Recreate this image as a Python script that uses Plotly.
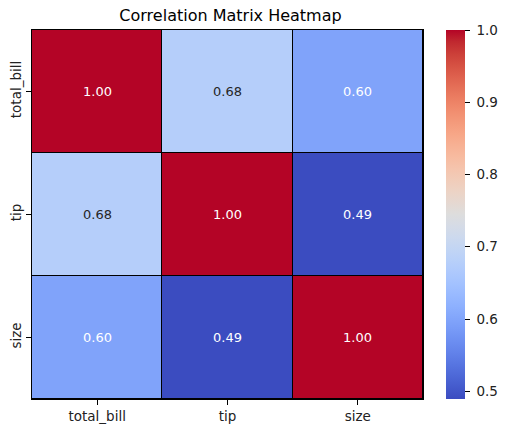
import plotly.graph_objects as go

labels = ["total_bill", "tip", "size"]
corr = [
    [1.00, 0.6757, 0.5983],
    [0.6757, 1.00, 0.4893],
    [0.5983, 0.4893, 1.00],
]
cbar_ticks = [0.5, 0.6, 0.7, 0.8, 0.9, 1.0]

# matplotlib "coolwarm"
coolwarm_rgb = [
    (59, 76, 192), (68, 90, 204), (77, 104, 215), (87, 117, 225),
    (98, 130, 234), (108, 142, 241), (119, 154, 247), (130, 165, 251),
    (141, 176, 254), (152, 185, 255), (163, 194, 255), (174, 201, 253),
    (184, 208, 249), (194, 213, 244), (204, 217, 238), (213, 219, 230),
    (221, 221, 221), (229, 216, 209), (236, 211, 197), (241, 204, 185),
    (245, 196, 173), (247, 187, 160), (247, 177, 148), (247, 166, 135),
    (244, 154, 123), (241, 141, 111), (236, 127, 99), (229, 112, 88),
    (222, 96, 77), (213, 80, 66), (203, 62, 56), (192, 40, 47), (180, 4, 38),
]
n = len(coolwarm_rgb) - 1
colorscale = [[i / n, "rgb(%d,%d,%d)" % c] for i, c in enumerate(coolwarm_rgb)]

zmin = min(min(r) for r in corr)
zmax = 1.0


def rel_lum(c):
    # same test seaborn uses to pick the annotation colour
    out = []
    for v in c:
        v = v / 255
        out.append(v / 12.92 if v <= 0.03928 else ((v + 0.055) / 1.055) ** 2.4)
    return 0.2126 * out[0] + 0.7152 * out[1] + 0.0722 * out[2]


fig = go.Figure(go.Heatmap(
    z=corr, x=labels, y=labels,
    colorscale=colorscale, zmin=zmin, zmax=zmax,
    xgap=1, ygap=1,
    colorbar=dict(
        x=1.06, xanchor="left", xpad=0, ypad=0,
        thickness=19, len=1, y=0.5, yanchor="middle",
        outlinewidth=0,
        tickvals=cbar_ticks, ticktext=[" %.1f" % t for t in cbar_ticks],
        ticks="outside", ticklen=5, tickcolor="black",
        tickfont=dict(size=13.5, color="#222"),
    ),
    hoverinfo="skip",
))

for i, row_lab in enumerate(labels):
    for j, col_lab in enumerate(labels):
        v = corr[i][j]
        t = (v - zmin) / (zmax - zmin)
        c = coolwarm_rgb[round(t * n)]
        fig.add_annotation(
            x=col_lab, y=row_lab, text="%.2f" % v, showarrow=False,
            font=dict(size=13, color="white" if rel_lum(c) <= 0.408 else "#262626"),
        )

fig.update_layout(
    width=511, height=433,
    margin=dict(l=32, r=82, t=30, b=34),
    paper_bgcolor="white", plot_bgcolor="black",
    font=dict(family="DejaVu Sans", color="#222"),
    title=dict(text="Correlation Matrix Heatmap", x=(32 + 429) / 2 / 511,
               xanchor="center", y=1 - 15 / 433, yanchor="middle",
               font=dict(size=16, color="black")),
)
fig.update_xaxes(showgrid=False, zeroline=False, ticks="outside", ticklen=5,
                 tickcolor="black", tickfont=dict(size=13.5), automargin=False,
                 showline=True, linecolor="black", linewidth=1, mirror=True)
fig.update_yaxes(showgrid=False, zeroline=False, ticks="outside", ticklen=5,
                 tickcolor="black", tickfont=dict(size=13.5), tickangle=-90,
                 autorange="reversed", automargin=False,
                 showline=True, linecolor="black", linewidth=1, mirror=True)

# drop the default 8px body margin so the figure sits at the page corner
fig.write_html("out.html", config={"displayModeBar": False},
               post_script="document.body.style.margin='0';")
